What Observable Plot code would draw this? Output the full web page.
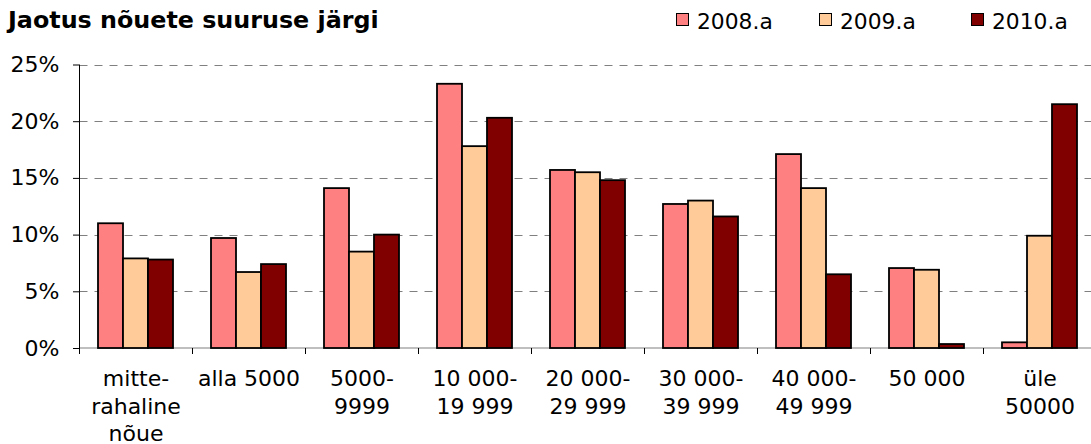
<!DOCTYPE html>
<html><head><meta charset="utf-8">
<script src="https://cdn.jsdelivr.net/npm/d3@7"></script>
<script src="https://cdn.jsdelivr.net/npm/@observablehq/plot@0.6"></script>
<style>
body{margin:0;background:#fff;font-family:"DejaVu Sans",Verdana,sans-serif;overflow:hidden}
#header{position:relative;height:40px;width:1091px}
#title{position:absolute;left:8px;top:9px;font-size:23.8px;font-weight:bold;line-height:1;color:#000;white-space:nowrap}
.leg{position:absolute;top:11px;font-size:21.8px;line-height:1;color:#000;white-space:nowrap}
.leg .sw{position:absolute;left:0;top:2.3px;width:13px;height:13px;box-sizing:border-box;border:1.5px solid #000}
.leg .lt{position:absolute;left:21px;top:0}
</style>
</head><body>
<div id="header"><div id="title">Jaotus nõuete suuruse järgi</div></div>
<div id="chart"></div>
<script>
const categories = ["mitte-\nrahaline\nnõue","alla 5000","5000-\n9999","10 000-\n19 999","20 000-\n29 999","30 000-\n39 999","40 000-\n49 999","50 000","üle\n50000"];
const years = ["2008.a","2009.a","2010.a"];
const v2008 = [11.0, 9.7, 14.1, 23.3, 15.7, 12.7, 17.1, 7.05, 0.5];
const v2009 = [7.9, 6.7, 8.5, 17.8, 15.5, 13.0, 14.1, 6.9, 9.9];
const v2010 = [7.8, 7.4, 10.0, 20.3, 14.8, 11.6, 6.5, 0.35, 21.5];
const colors = ["#FF8080","#FFCC99","#800000"];
const yTicks = [0,5,10,15,20,25];
const legendLeft = [676, 819, 971];

const series = [v2008, v2009, v2010];
const rows = [];
categories.forEach((c,i)=>years.forEach((yr,j)=>rows.push({category:c, year:yr, value:series[j][i]})));

// legend
const header = document.getElementById("header");
years.forEach((yr,j)=>{
  const d = document.createElement("div");
  d.className = "leg";
  d.style.left = legendLeft[j]+"px";
  d.innerHTML = `<span class="sw" style="background:${colors[j]}"></span><span class="lt">${yr}</span>`;
  header.appendChild(d);
});

const plot = Plot.plot({
  width:1091, height:404,
  marginLeft:75, marginRight:-8, marginTop:24.5, marginBottom:96,
  style:{fontFamily:"DejaVu Sans, Verdana, sans-serif", fontSize:"22px", color:"#000", background:"#fff"},
  fx:{domain:categories, padding:0},
  x:{domain:years, paddingInner:0, paddingOuter:0.75, axis:null},
  y:{domain:[0,25]},
  color:{domain:years, range:colors},
  marks:[
    Plot.barY(rows, {fx:"category", x:"year", y:"value", fill:"year", stroke:"#000", strokeWidth:1.8}),
    Plot.axisY({ticks:yTicks, tickFormat:d=>d+"%", tickSize:6, tickPadding:14, label:null, strokeOpacity:1}),
    Plot.axisFx({anchor:"bottom", tickSize:0, tickPadding:18, lineHeight:1.25, label:null})
  ]
});

// gridlines, axis line and category boundary ticks, positioned through Plot's scales
const fx = plot.scale("fx"), y = plot.scale("y");
const svg = d3.select(plot);
const y0 = y.apply(0), yTop = y.apply(25);
const xStart = Math.round(fx.apply(categories[0])) + 0.5;
const xEnd = 1091;
const grid = svg.insert("g", ":scope > :not(style)").attr("stroke","#808080").attr("stroke-width",1);
yTicks.filter(d=>d>0).forEach(t=>{
  const yy = Math.round(y.apply(t)) + 0.5;
  grid.append("line").attr("x1",xStart).attr("x2",xEnd).attr("y1",yy).attr("y2",yy).attr("stroke-dasharray","8,7");
});
grid.append("line").attr("x1",xStart).attr("x2",xEnd).attr("y1",y0).attr("y2",y0).attr("stroke-width",1.2);
const g = svg.append("g").attr("stroke","#000").attr("stroke-width",1);
g.append("line").attr("x1",xStart).attr("x2",xStart).attr("y1",yTop).attr("y2",y0);
categories.forEach(c=>{
  const xx = Math.round(fx.apply(c)) + 0.5;
  g.append("line").attr("x1",xx).attr("x2",xx).attr("y1",y0).attr("y2",y0+6);
});
document.getElementById("chart").appendChild(plot);
</script>
</body></html>
